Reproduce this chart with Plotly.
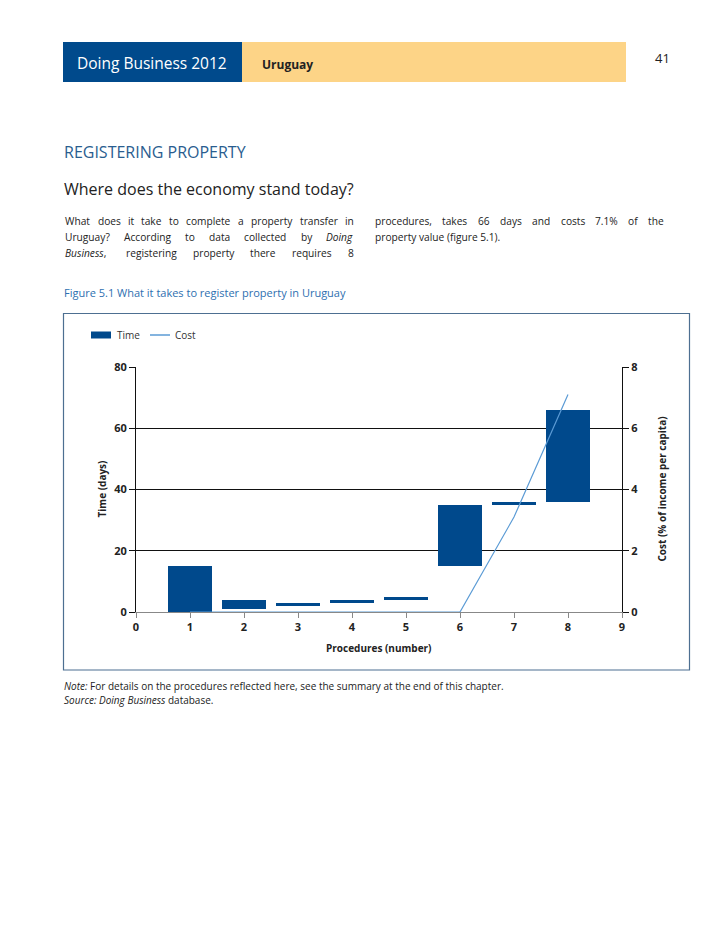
import plotly.graph_objects as go

# ---- data ----
procedures = [1, 2, 3, 4, 5, 6, 7, 8]
time_start = [0, 1, 2, 3, 4, 15, 35, 36]      # days
time_end = [15, 4, 3, 4, 5, 35, 36, 66]        # days
cost_cum = [0, 0, 0, 0, 0, 0, 3.1, 7.1]        # % of income per capita

x_ticks = list(range(0, 10))
y_left_ticks = [0, 20, 40, 60, 80]
y_right_ticks = [0, 2, 4, 6, 8]

BAR = "#00498c"
LINE = "#5b9bd5"
FONT = "Open Sans"

OFF = 8                       # browser body margin
W_FIG, H_FIG = 728 - OFF, 942 - OFF
L, R, T, B = 136, 622, 367, 612   # plot area in page pixels
PW, PH = R - L, B - T


def px(x):
    return (x - L) / PW


def py(y):
    return (B - y) / PH


fig = go.Figure()
fig.add_trace(go.Bar(
    x=procedures,
    y=[e - s for s, e in zip(time_start, time_end)],
    base=time_start,
    width=0.8,
    marker=dict(color=BAR, line=dict(width=0)),
    name="Time",
    showlegend=False,
))
fig.add_trace(go.Scatter(
    x=procedures, y=cost_cum, yaxis="y2", mode="lines",
    line=dict(color=LINE, width=1.2), name="Cost", showlegend=False,
))

tickfont = dict(family=FONT, size=11, color="#222", weight="bold")
fig.update_layout(
    width=W_FIG, height=H_FIG,
    margin=dict(l=L - OFF, r=W_FIG - (R - OFF), t=T - OFF, b=H_FIG - (B - OFF), pad=0),
    paper_bgcolor="white", plot_bgcolor="white",
    bargap=0,
    xaxis=dict(range=[0, 9], tickvals=x_ticks, ticks="outside", ticklen=5,
               tickcolor="#888", showline=True, linecolor="#888", linewidth=1,
               showgrid=False, zeroline=False, tickfont=tickfont),
    yaxis=dict(range=[0, 80], tickvals=y_left_ticks, ticks="outside", ticklen=6,
               tickcolor="#111", showline=True, linecolor="#111", linewidth=1,
               showgrid=True, gridcolor="#111", gridwidth=1, zeroline=False,
               tickfont=tickfont),
    yaxis2=dict(range=[0, 8], tickvals=y_right_ticks, overlaying="y", side="right",
                ticks="outside", ticklen=6, tickcolor="#111", showline=True,
                linecolor="#111", linewidth=1, showgrid=False, zeroline=False,
                tickfont=tickfont),
)

shapes = []
ann = []


def text(x, y, s, size=10, color="#222", anchor="left", yanchor="middle", family=FONT, angle=0):
    ann.append(dict(x=px(x), y=py(y), xref="paper", yref="paper", text=s, showarrow=False,
                    xanchor=anchor, yanchor=yanchor, textangle=angle,
                    font=dict(family=family, size=size, color=color)))


def rect(x0, y0, x1, y1, fill=None, line=None, lw=1):
    shapes.append(dict(type="rect", xref="paper", yref="paper",
                       x0=px(x0), x1=px(x1), y0=py(y0), y1=py(y1),
                       fillcolor=fill if fill else "rgba(0,0,0,0)",
                       line=dict(color=line if line else "rgba(0,0,0,0)", width=lw),
                       layer="below"))


# approximate Open Sans advance widths (em)
CW = {' ': .26, 'a': .556, 'b': .613, 'c': .476, 'd': .613, 'e': .561, 'f': .339, 'g': .548,
      'h': .614, 'i': .253, 'j': .253, 'k': .525, 'l': .253, 'm': .930, 'n': .614, 'o': .604,
      'p': .613, 'q': .613, 'r': .408, 's': .477, 't': .353, 'u': .614, 'v': .501, 'w': .778,
      'x': .524, 'y': .502, 'z': .465, ',': .243, '.': .266, '?': .429, '%': .828, '(': .291,
      ')': .291, 'W': .948, 'U': .741, 'B': .641, 'D': .742, 'A': .675}


def wlen(word, size):
    import re
    plain = re.sub(r"<[^>]+>", "", word)
    return size * sum(CW.get(c, .572) for c in plain)


def justify(words, x0, x1, y, size):
    tot = sum(wlen(w, size) for w in words)
    gap = (x1 - x0 - tot) / (len(words) - 1)
    x = x0
    for w in words:
        text(x, y, w, size=size)
        x += wlen(w, size) + gap


BODY = 10.2

# header
rect(63, 42, 242, 82, fill="#004a8c")
rect(242, 42, 626, 82, fill="#fdd487")
text(75, 63, "Doing Business 2012", size=15.5, color="white")
text(260, 65, "<b>Uruguay</b>", size=12, color="#222")
text(653, 58, "41", size=13, color="#222")

# headings
text(62, 152, "REGISTERING PROPERTY", size=16, color="#2a5d8f")
text(62, 189, "Where does the economy stand today?", size=16, color="#222")

# body text
justify("What does it take to complete a property transfer in".split(), 63, 352, 221, BODY)
justify(["Uruguay?", "According", "to", "data", "collected", "by", "<i>Doing</i>"], 63, 352, 237, BODY)
justify(["<i>Business</i>,", "registering", "property", "there", "requires", "8"], 63, 352, 253, BODY)
justify("procedures, takes 66 days and costs 7.1% of the".split(), 373, 662, 221, BODY)
text(373, 237, "property value (figure 5.1).", size=BODY)

text(62, 292, "Figure 5.1 What it takes to register property in Uruguay", size=11, color="#2e6fb0")

# chart frame
rect(63.5, 313.5, 689.5, 670, line="#4d6f91", lw=1.2)

# legend
rect(91, 331.5, 111, 338.5, fill=BAR)
text(115, 335, "Time", size=10, color="#333")
shapes.append(dict(type="line", xref="paper", yref="paper", x0=px(150), x1=px(170),
                   y0=py(335), y1=py(335), line=dict(color=LINE, width=1.5)))
text(173, 335, "Cost", size=10, color="#333")

# axis titles
text((L + R) / 2, 648, "<b>Procedures (number)</b>", size=10, anchor="center")
text(101, (T + B) / 2, "<b>Time (days)</b>", size=10, anchor="center", angle=-90)
text(661, (T + B) / 2, "<b>Cost (% of income per capita)</b>", size=10, anchor="center", angle=-90)

# notes
text(62, 686, "<i>Note:</i> For details on the procedures reflected here, see the summary at the end of this chapter.",
     size=10)
text(62, 700, "<i>Source: Doing Business</i> database.", size=10)

fig.update_layout(shapes=shapes, annotations=ann)
fig.write_html("out.html")
